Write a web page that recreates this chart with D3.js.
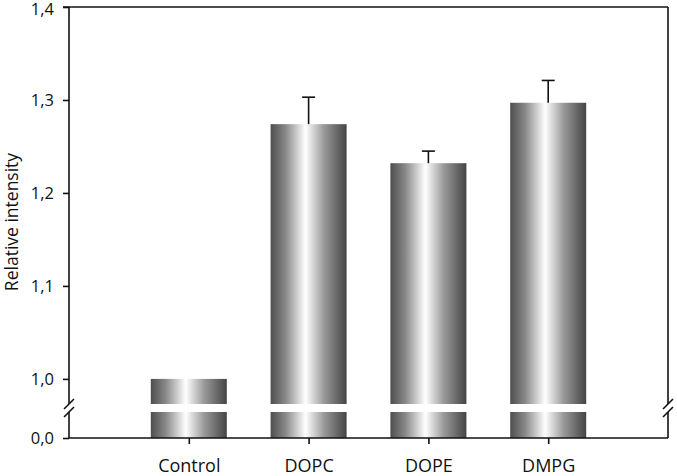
<!DOCTYPE html>
<html><head><meta charset="utf-8">
<script src="https://cdn.jsdelivr.net/npm/d3@7"></script>
<style>html,body{margin:0;padding:0;background:#fff}</style>
</head><body>
<svg id="chart" width="677" height="476"></svg>
<script>
// ---- data ----
const categories = ["Control", "DOPC", "DOPE", "DMPG"];
const values = [1.0, 1.274, 1.232, 1.297];
const errors = [0, 0.029, 0.013, 0.024];
const upperTicks = [1.0, 1.1, 1.2, 1.3, 1.4];
const lowerTicks = [0.0];

// ---- layout ----
const plotLeft = 69, plotRight = 668, plotTop = 7, plotBottom = 438;
const breakTop = 404, breakBottom = 412;

const svg = d3.select("#chart");
const fmt = d => d.toFixed(1).replace(".", ",");

const x = d3.scalePoint().domain(categories).range([plotLeft, plotRight]).padding(1);
const yU = d3.scaleLinear().domain([0.973, 1.4]).range([breakTop, plotTop]);
const yL = d3.scaleLinear().domain([0, 0.028]).range([plotBottom, breakBottom]);
const barW = 76;

// gradient
const defs = svg.append("defs");
const g = defs.append("linearGradient").attr("id", "barGrad").attr("x1", "0%").attr("x2", "100%").attr("y1", "0%").attr("y2", "0%");
[[0, "#4e4e4e"], [0.2, "#8a8a8a"], [0.46, "#ffffff"], [0.7, "#9a9a9a"], [1, "#444444"]]
  .forEach(([o, c]) => g.append("stop").attr("offset", o).attr("stop-color", c));

// bars: lower segment
svg.append("g").selectAll("rect").data(categories).join("rect")
  .attr("x", d => x(d) - barW / 2).attr("width", barW)
  .attr("y", yL(0.028)).attr("height", yL(0) - yL(0.028))
  .attr("fill", "url(#barGrad)");
// bars: upper segment
svg.append("g").selectAll("rect").data(categories).join("rect")
  .attr("x", d => x(d) - barW / 2).attr("width", barW)
  .attr("y", (d, i) => yU(values[i])).attr("height", (d, i) => yU(0.973) - yU(values[i]))
  .attr("fill", "url(#barGrad)");

// error bars
const eg = svg.append("g").attr("stroke", "#111").attr("stroke-width", 1.6);
categories.forEach((c, i) => {
  if (!errors[i]) return;
  const cx = x(c), y0 = yU(values[i]), y1 = yU(values[i] + errors[i]);
  eg.append("line").attr("x1", cx).attr("x2", cx).attr("y1", y0).attr("y2", y1);
  eg.append("line").attr("x1", cx - 6.5).attr("x2", cx + 6.5).attr("y1", y1).attr("y2", y1);
});

// frame lines
const fr = svg.append("g").attr("stroke", "#111").attr("stroke-width", 1.6).attr("fill", "none");
fr.append("line").attr("x1", plotLeft - 6).attr("x2", plotRight).attr("y1", plotTop).attr("y2", plotTop);
fr.append("line").attr("x1", plotLeft).attr("x2", plotRight).attr("y1", plotBottom).attr("y2", plotBottom);
[plotLeft, plotRight].forEach(xx => {
  fr.append("line").attr("x1", xx).attr("x2", xx).attr("y1", plotTop).attr("y2", breakTop);
  fr.append("line").attr("x1", xx).attr("x2", xx).attr("y1", breakBottom).attr("y2", plotBottom);
  fr.append("line").attr("x1", xx - 5).attr("x2", xx + 5).attr("y1", breakTop + 5).attr("y2", breakTop - 5);
  fr.append("line").attr("x1", xx - 5).attr("x2", xx + 5).attr("y1", breakBottom + 5).attr("y2", breakBottom - 5);
});

// y axes
const axU = svg.append("g").attr("transform", `translate(${plotLeft},0)`)
  .call(d3.axisLeft(yU).tickValues(upperTicks).tickFormat(fmt).tickSize(6).tickPadding(9));
const axL = svg.append("g").attr("transform", `translate(${plotLeft},0)`)
  .call(d3.axisLeft(yL).tickValues(lowerTicks).tickFormat(fmt).tickSize(6).tickPadding(9));
[axU, axL].forEach(a => {
  a.select(".domain").remove();
  a.selectAll("line").attr("stroke", "#111").attr("stroke-width", 1.6);
  a.selectAll("text").attr("font-family", "'Open Sans', sans-serif").attr("font-size", 16.5).attr("fill", "#111");
});
axU.selectAll(".tick").filter(d => d === 1.4).select("text").attr("dy", "0.48em");

// x axis
const axX = svg.append("g").attr("transform", `translate(0,${plotBottom})`)
  .call(d3.axisBottom(x).tickSize(6).tickPadding(15));
axX.select(".domain").remove();
axX.selectAll("line").attr("stroke", "#111").attr("stroke-width", 1.6);
axX.selectAll("text").attr("font-family", "'Open Sans', sans-serif").attr("font-size", 18).attr("fill", "#111");

// y label
svg.append("text").attr("transform", `translate(18,222) rotate(-90)`)
  .attr("text-anchor", "middle").attr("font-family", "'Open Sans', sans-serif")
  .attr("font-size", 17.5).attr("fill", "#111").text("Relative intensity");
</script>
</body></html>
